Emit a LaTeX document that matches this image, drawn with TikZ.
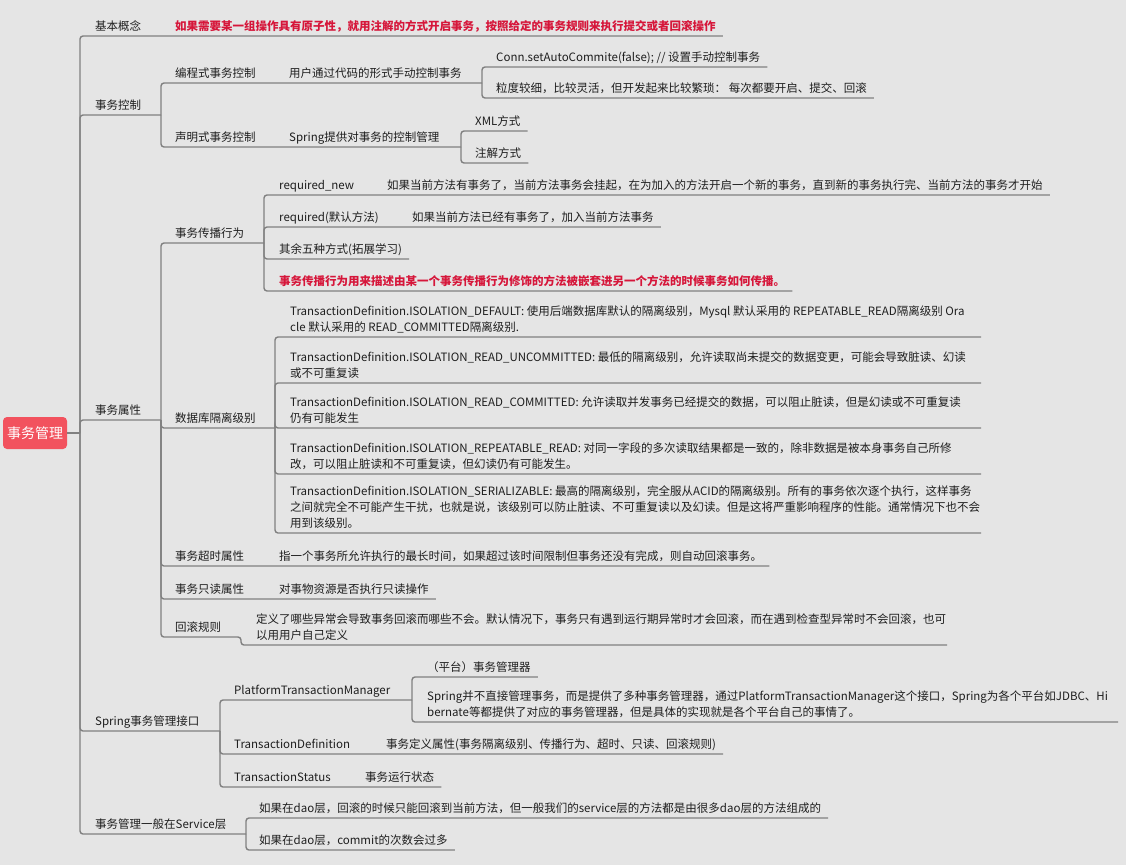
\documentclass[tikz,border=0pt]{standalone}
\usepackage{fontspec}
\setmainfont{Noto Sans CJK SC}
\definecolor{bg}{RGB}{229,229,229}
\definecolor{txt}{RGB}{30,30,30}
\definecolor{hotred}{RGB}{214,22,58}
\definecolor{linec}{RGB}{128,128,128}
\definecolor{rootfill}{RGB}{242,82,94}
\newcommand\tfont{\fontsize{11.5}{16}\selectfont}
\newcommand\lines[1]{\begin{tabular}[b]{@{}l@{}}#1\end{tabular}}
\tikzset{
  topic/.style={anchor=south west, inner xsep=0pt, inner ysep=0pt, text depth=5pt, font=\tfont, text=txt},
  hot/.style={topic, text=hotred, font=\tfont\bfseries},
  rootbox/.style={fill=rootfill, rounded corners=4pt, minimum width=64pt, minimum height=32pt,
    inner sep=0pt, text=white, font=\fontsize{14}{16}\selectfont},
  ul/.style={draw=linec, line width=1.4pt},
  br/.style={ul, rounded corners=3pt},
  tip/.style={xshift=7pt}
}
\begin{document}
\begin{tikzpicture}[x=1pt,y=-1pt]
\fill[bg] (0,0) rectangle (1126,865);
\useasboundingbox (0,0) rectangle (1126,865);

% junction columns of the branches
\coordinate (J0) at (80,0);
\coordinate (JB) at (161,0);
\coordinate (JB1) at (482,0);
\coordinate (JB2) at (461,0);
\coordinate (JC) at (161,0);
\coordinate (JC1) at (264,0);
\coordinate (JC2) at (275,0);
\coordinate (JR) at (241,0);
\coordinate (JD) at (220,0);
\coordinate (JD1) at (412,0);
\coordinate (JE) at (246,0);
% right edges of the wrapped text blocks
\coordinate (C2end) at (981,0);
\coordinate (C5end) at (947,0);
\coordinate (D1end) at (1118,0);

% root
\node[rootbox] (root) at (35,433) {事务管理};

% level 1
\node[topic] (a) at (95,36) {基本概念};
\node[topic] (b) at (95,115) {事务控制};
\node[topic] (c) at (95,420) {事务属性};
\node[topic] (d) at (95,731) {Spring事务管理接口};
\node[topic] (e) at (95,834) {事务管理一般在Service层};

\node[hot] (a1) at (175,36) {如果需要某一组操作具有原子性，就用注解的方式开启事务，按照给定的事务规则来执行提交或者回滚操作};

% 事务控制
\node[topic] (b1) at (175,83) {编程式事务控制};
\node[topic] (b1a) at (289,83) {用户通过代码的形式手动控制事务};
\node[topic] (b11) at (496,67) {Conn.setAutoCommite(false); // 设置手动控制事务};
\node[topic] (b12) at (496,98) {粒度较细，比较灵活，但开发起来比较繁琐： 每次都要开启、提交、回滚};
\node[topic] (b2) at (175,147) {声明式事务控制};
\node[topic] (b2a) at (289,147) {Spring提供对事务的控制管理};
\node[topic] (b21) at (475,131) {XML方式};
\node[topic] (b22) at (475,163) {注解方式};

% 事务属性
\node[topic] (c1) at (175,243) {事务传播行为};
\node[topic] (c1a) at (279,195) {required\_new};
\node[topic] (c1a1) at (387,195) {如果当前方法有事务了，当前方法事务会挂起，在为加入的方法开启一个新的事务，直到新的事务执行完、当前方法的事务才开始};
\node[topic] (c1b) at (279,227) {required(默认方法)};
\node[topic] (c1b1) at (412,227) {如果当前方法已经有事务了，加入当前方法事务};
\node[topic] (c1c) at (279,259) {其余五种方式(拓展学习)};
\node[hot] (c1d) at (279,291) {事务传播行为用来描述由某一个事务传播行为修饰的方法被嵌套进另一个方法的时候事务如何传播。};

\node[topic] (c2) at (175,428) {数据库隔离级别};
\node[topic] (c2a) at (290,337) {\lines{TransactionDefinition.ISOLATION\_DEFAULT: 使用后端数据库默认的隔离级别，Mysql 默认采用的 REPEATABLE\_READ隔离级别 Ora\\cle 默认采用的 READ\_COMMITTED隔离级别.}};
\node[topic] (c2b) at (290,383) {\lines{TransactionDefinition.ISOLATION\_READ\_UNCOMMITTED: 最低的隔离级别，允许读取尚未提交的数据变更，可能会导致脏读、幻读\\或不可重复读}};
\node[topic] (c2c) at (290,428) {\lines{TransactionDefinition.ISOLATION\_READ\_COMMITTED: 允许读取并发事务已经提交的数据，可以阻止脏读，但是幻读或不可重复读\\仍有可能发生}};
\node[topic] (c2d) at (290,474) {\lines{TransactionDefinition.ISOLATION\_REPEATABLE\_READ: 对同一字段的多次读取结果都是一致的，除非数据是被本身事务自己所修\\改，可以阻止脏读和不可重复读，但幻读仍有可能发生。}};
\node[topic] (c2e) at (290,533) {\lines{TransactionDefinition.ISOLATION\_SERIALIZABLE: 最高的隔离级别，完全服从ACID的隔离级别。所有的事务依次逐个执行，这样事务\\之间就完全不可能产生干扰，也就是说，该级别可以防止脏读、不可重复读以及幻读。但是这将严重影响程序的性能。通常情况下也不会\\用到该级别。}};

\node[topic] (c3) at (175,566) {事务超时属性};
\node[topic] (c3a) at (279,566) {指一个事务所允许执行的最长时间，如果超过该时间限制但事务还没有完成，则自动回滚事务。};
\node[topic] (c4) at (175,599) {事务只读属性};
\node[topic] (c4a) at (279,599) {对事物资源是否执行只读操作};
\node[topic] (c5) at (175,637) {回滚规则};
\node[topic] (c5a) at (256,645) {\lines{定义了哪些异常会导致事务回滚而哪些不会。默认情况下，事务只有遇到运行期异常时才会回滚，而在遇到检查型异常时不会回滚，也可\\以用用户自己定义}};

% Spring事务管理接口
\node[topic] (d1) at (234,700) {PlatformTransactionManager};
\node[topic] (d1a) at (427,677) {（平台）事务管理器};
\node[topic] (d1b) at (427,722) {\lines{Spring并不直接管理事务，而是提供了多种事务管理器，通过PlatformTransactionManager这个接口，Spring为各个平台如JDBC、Hi\\bernate等都提供了对应的事务管理器，但是具体的实现就是各个平台自己的事情了。}};
\node[topic] (d2) at (234,754) {TransactionDefinition};
\node[topic] (d2a) at (386,754) {事务定义属性(事务隔离级别、传播行为、超时、只读、回滚规则)};
\node[topic] (d3) at (234,787) {TransactionStatus};
\node[topic] (d3a) at (365,787) {事务运行状态};

% Service 层
\node[topic] (e1) at (259,818) {如果在dao层，回滚的时候只能回滚到当前方法，但一般我们的service层的方法都是由很多dao层的方法组成的};
\node[topic] (e2) at (259,850) {如果在dao层，commit的次数会过多};

% ---- connectors ----
\draw[ul] (root.east) -- (J0 |- root.east);
\draw[br] (J0 |- root.east) -- (J0 |- a.south) -- ([tip]a1.south east);
\draw[br] (J0 |- root.east) -- (J0 |- b.south) -- (JB |- b.south);
\draw[br] (J0 |- root.east) -- (J0 |- c.south) -- (JC |- c.south);
\draw[br] (J0 |- root.east) -- (J0 |- d.south) -- (JD |- d.south);
\draw[br] (J0 |- root.east) -- (J0 |- e.south) -- (JE |- e.south);

\draw[br] (JB |- b.south) -- (JB |- b1.south) -- (JB1 |- b1a.south);
\draw[br] (JB |- b.south) -- (JB |- b2.south) -- (JB2 |- b2a.south);
\draw[br] (JB1 |- b1a.south) -- (JB1 |- b11.south) -- ([tip]b11.south east);
\draw[br] (JB1 |- b1a.south) -- (JB1 |- b12.south) -- ([tip]b12.south east);
\draw[br] (JB2 |- b2a.south) -- (JB2 |- b21.south) -- ([tip]b21.south east);
\draw[br] (JB2 |- b2a.south) -- (JB2 |- b22.south) -- ([tip]b22.south east);

\draw[br] (JC |- c.south) -- (JC |- c1.south) -- (JC1 |- c1.south);
\draw[br] (JC |- c.south) -- (JC |- c2.south) -- (JC2 |- c2.south);
\draw[br] (JC |- c.south) -- (JC |- c3.south) -- ([tip]c3a.south east);
\draw[br] (JC |- c.south) -- (JC |- c4.south) -- ([tip]c4a.south east);
\draw[br] (JC |- c.south) -- (JC |- c5.south) -- (JR |- c5.south) -- (JR |- c5a.south) -- (C5end |- c5a.south);

\draw[br] (JC1 |- c1.south) -- (JC1 |- c1a.south) -- ([tip]c1a1.south east);
\draw[br] (JC1 |- c1.south) -- (JC1 |- c1b.south) -- ([tip]c1b1.south east);
\draw[br] (JC1 |- c1.south) -- (JC1 |- c1c.south) -- ([tip]c1c.south east);
\draw[br] (JC1 |- c1.south) -- (JC1 |- c1d.south) -- ([tip]c1d.south east);

\foreach \n in {c2a,c2b,c2c,c2d,c2e}
  \draw[br] (JC2 |- c2.south) -- (JC2 |- \n.south) -- (C2end |- \n.south);

\draw[br] (JD |- d.south) -- (JD |- d1.south) -- (JD1 |- d1.south);
\draw[br] (JD |- d.south) -- (JD |- d2.south) -- ([tip]d2a.south east);
\draw[br] (JD |- d.south) -- (JD |- d3.south) -- ([tip]d3a.south east);
\draw[br] (JD1 |- d1.south) -- (JD1 |- d1a.south) -- ([tip]d1a.south east);
\draw[br] (JD1 |- d1.south) -- (JD1 |- d1b.south) -- (D1end |- d1b.south);

\draw[br] (JE |- e.south) -- (JE |- e1.south) -- ([tip]e1.south east);
\draw[br] (JE |- e.south) -- (JE |- e2.south) -- ([tip]e2.south east);
\end{tikzpicture}
\end{document}
